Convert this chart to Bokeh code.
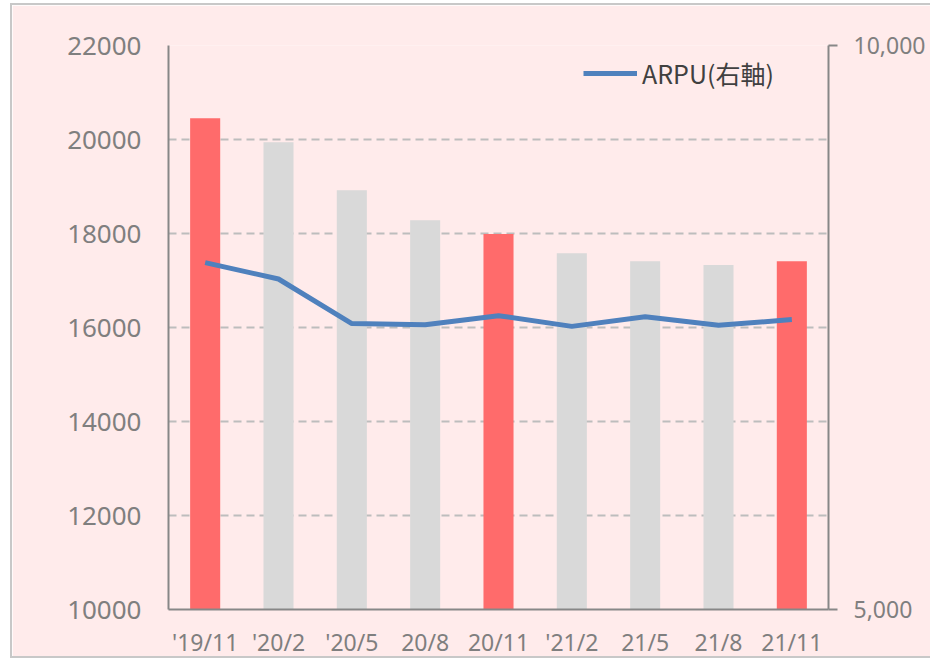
from bokeh.plotting import figure
from bokeh.models import (FactorRange, Range1d, LinearAxis, FixedTicker,
                          NumeralTickFormatter, Legend, LegendItem)
from bokeh.embed import file_html
from bokeh.resources import INLINE

# ---- data ----
categories = ["'19/11", "'20/2", "'20/5", "20/8", "20/11", "'21/2", "21/5", "21/8", "21/11"]
subscribers = [20450, 19940, 18920, 18280, 17990, 17580, 17410, 17330, 17410]
arpu = [8075, 7930, 7535, 7525, 7605, 7510, 7595, 7520, 7570]
highlight = [True, False, False, False, True, False, False, False, True]
left_ticks = [10000, 12000, 14000, 16000, 18000, 20000, 22000]
right_ticks = [5000, 10000]

RED = "#FF6B6B"
GREY = "#D9D9D9"
BG = "#FFEBEB"
AXIS = "#878787"
TXT = "#7F7F7F"

bar_colors = [RED if h else GREY for h in highlight]

p = figure(width=920, height=655, x_range=FactorRange(*categories),
           y_range=Range1d(10000, 22000), output_backend="svg",
           toolbar_location=None, min_border_left=156, min_border_right=104,
           min_border_top=40, min_border_bottom=46)
p.styles = {"margin-left": "10px", "margin-top": "3px",
            "border-left": "2px solid #C8C8C8",
            "border-top": "2px solid #C8C8C8",
            "border-bottom": "2px solid #C8C8C8"}
p.background_fill_color = BG
p.border_fill_color = BG
p.outline_line_color = None

p.extra_y_ranges = {"arpu": Range1d(5000, 10000)}

p.vbar(x=categories, top=subscribers, bottom=10000, width=0.41,
       color=bar_colors, line_color=None)

line = p.line(x=categories, y=arpu, y_range_name="arpu",
              line_color="#4F81BD", line_width=5)

# left axis
ya = p.yaxis[0]
ya.ticker = FixedTicker(ticks=left_ticks)
ya.axis_line_color = AXIS
ya.axis_line_width = 2
ya.major_tick_out = 0
ya.major_tick_in = 0
ya.minor_tick_out = 0
ya.minor_tick_in = 0
ya.major_label_standoff = 27
ya.major_label_text_font = "Noto Sans"
ya.major_label_text_font_size = "26px"
ya.major_label_text_color = TXT

# x axis
xa = p.xaxis[0]
xa.axis_line_color = AXIS
xa.axis_line_width = 2
xa.major_tick_out = 0
xa.major_tick_in = 0
xa.major_label_standoff = 16
xa.major_label_text_font = "Noto Sans"
xa.major_label_text_font_size = "23px"
xa.major_label_text_color = TXT

# right axis
ra = LinearAxis(y_range_name="arpu", ticker=FixedTicker(ticks=right_ticks),
                formatter=NumeralTickFormatter(format="0,0"))
ra.axis_line_color = AXIS
ra.axis_line_width = 2
ra.major_tick_out = 9
ra.major_tick_in = 0
ra.major_tick_line_color = AXIS
ra.major_tick_line_width = 2
ra.minor_tick_out = 0
ra.minor_tick_in = 0
ra.major_label_standoff = 16
ra.major_label_text_font = "Noto Sans"
ra.major_label_text_font_size = "23px"
ra.major_label_text_color = TXT
p.add_layout(ra, "right")

# grid
p.xgrid.grid_line_color = None
p.ygrid.ticker = FixedTicker(ticks=left_ticks[1:])
p.ygrid.grid_line_color = "#BDBDBD"
p.ygrid.grid_line_width = 2
p.ygrid.grid_line_dash = "8 5"

legend = Legend(items=[LegendItem(label="ARPU(右軸)", renderers=[line])],
                location=(415, 518), orientation="horizontal")
legend.background_fill_alpha = 0
legend.border_line_color = None
legend.padding = 0
legend.margin = 0
legend.glyph_width = 54
legend.label_standoff = 5
legend.label_text_font = "Noto Sans CJK JP"
legend.label_text_font_size = "25px"
legend.label_text_color = "#404040"
p.add_layout(legend, "center")

open("out.html", "w").write(file_html(p, INLINE))
